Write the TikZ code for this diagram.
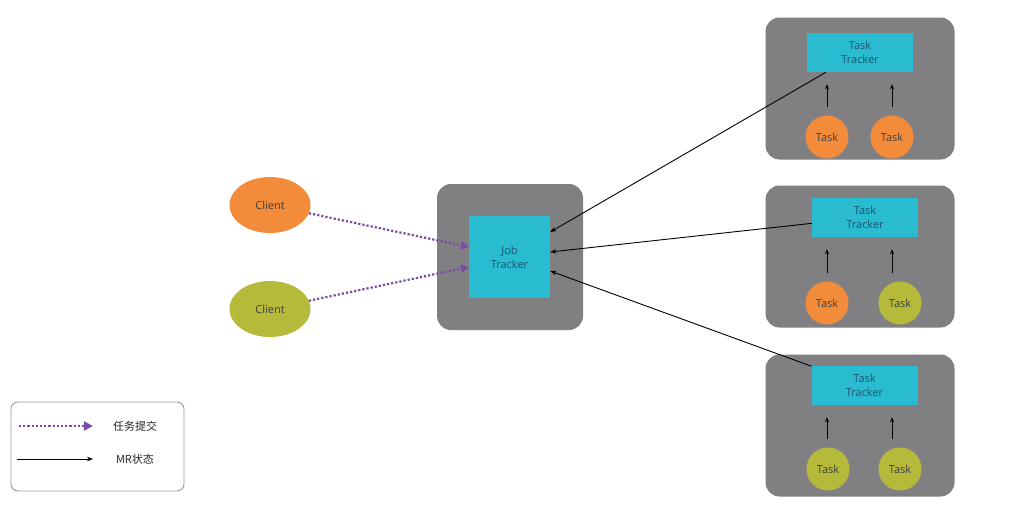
\documentclass[tikz,border=0pt]{standalone}
\usepackage{fontspec}
\setmainfont{Open Sans}
\newfontfamily\cjk{Noto Sans CJK SC}
\usetikzlibrary{arrows.meta,calc,shapes.geometric}

\definecolor{boxgray}{RGB}{128,128,131}
\definecolor{trkcyan}{RGB}{41,188,208}
\definecolor{trktext}{RGB}{28,84,110}
\definecolor{tskorange}{RGB}{242,140,58}
\definecolor{tskolive}{RGB}{181,186,58}
\definecolor{subpurple}{RGB}{125,75,165}

\begin{document}
\begin{tikzpicture}[x=1pt, y=-1pt,
  groupbox/.style={rectangle, fill=boxgray, rounded corners=14pt, inner sep=0pt},
  trackerbox/.style={rectangle, fill=trkcyan, inner sep=0pt, align=center,
    text=trktext, font=\fontsize{11}{14}\selectfont},
  taskcirc/.style={circle, minimum size=43pt, inner sep=0pt,
    text=black!75, font=\fontsize{11}{13}\selectfont},
  clientell/.style={ellipse, minimum width=81pt, minimum height=56pt, inner sep=0pt,
    text=black!75, font=\fontsize{11}{13}\selectfont},
  submitarr/.style={draw=subpurple, line width=2.2pt, dotted,
    -{Triangle[length=8pt,width=8pt,fill=subpurple]}},
  statusarr/.style={draw=black, line width=0.9pt, -{Stealth[length=6pt,width=4.5pt]}},
  uparr/.style={draw=black, line width=1pt, -{Stealth[length=5pt,width=4pt]},
    shorten <=8pt, shorten >=12pt},
  legtext/.style={font=\cjk\fontsize{11}{13}\selectfont, text=black!85},
]
\useasboundingbox[fill=white] (0,0) rectangle (1024,514);

% ============================================================
% JOB TRACKER
% ============================================================
\node[groupbox, minimum width=146pt, minimum height=146pt] (jtgrp) at (510,257) {};
\node[trackerbox, minimum width=81pt, minimum height=82pt] (jt) at (509.5,257) {Job\\Tracker};

% ============================================================
% CLIENTS
% ============================================================
\node[clientell, fill=tskorange] (cli1) at (270,205) {Client};
\node[clientell, fill=tskolive] (cli2) at (270,309) {Client};

\draw[submitarr] (cli1) -- ($(jt.west)+(0,-10)$);
\draw[submitarr] (cli2) -- ($(jt.west)+(0,10)$);

% ============================================================
% TASK TRACKER 1 (top)
% ============================================================
\node[groupbox, minimum width=189pt, minimum height=142pt] (grp1) at (860,88.5) {};
\node[trackerbox, minimum width=106pt, minimum height=39pt] (tt1) at (860,52.5) {Task\\Tracker};
\node[taskcirc, fill=tskorange] (t1a) at (827,137) {Task};
\node[taskcirc, fill=tskorange] (t1b) at (892,137) {Task};
\draw[uparr] (t1a.north) -- (t1a.north |- tt1.south);
\draw[uparr] (t1b.north) -- (t1b.north |- tt1.south);

% ============================================================
% TASK TRACKER 2 (middle)
% ============================================================
\node[groupbox, minimum width=189pt, minimum height=142pt] (grp2) at (860,256.5) {};
\node[trackerbox, minimum width=106pt, minimum height=39pt] (tt2) at (865,217.5) {Task\\Tracker};
\node[taskcirc, fill=tskorange] (t2a) at (827,303) {Task};
\node[taskcirc, fill=tskolive] (t2b) at (900,303) {Task};
\draw[uparr] (t2a.north) -- (t2a.north |- tt2.south);
\draw[uparr] ($(t2b.north)+(-8,0)$) -- ($(t2b.north |- tt2.south)+(-8,0)$);

% ============================================================
% TASK TRACKER 3 (bottom)
% ============================================================
\node[groupbox, minimum width=189pt, minimum height=142pt] (grp3) at (860,425.5) {};
\node[trackerbox, minimum width=106pt, minimum height=39pt] (tt3) at (864.5,385.5) {Task\\Tracker};
\node[taskcirc, fill=tskolive] (t3a) at (828,469) {Task};
\node[taskcirc, fill=tskolive] (t3b) at (900,469) {Task};
\draw[uparr] ($(t3a.north)+(-1,0)$) -- ($(t3a.north |- tt3.south)+(-1,0)$);
\draw[uparr] ($(t3b.north)+(-8,0)$) -- ($(t3b.north |- tt3.south)+(-8,0)$);

% Status arrows to job tracker
\draw[statusarr] (tt1) -- ($(jt.east)+(0,-25)$);
\draw[statusarr] (tt2) -- ($(jt.east)+(0,-5)$);
\draw[statusarr] (tt3) -- ($(jt.east)+(0,14)$);

% ============================================================
% LEGEND
% ============================================================
\node[rectangle, draw=black!40, line width=0.9pt, rounded corners=7pt,
  minimum width=173pt, minimum height=89pt] (legend) at (97.5,446.5) {};
\coordinate (lg1a) at (19,426);
\coordinate (lg1b) at (93,426);
\coordinate (lg2a) at (17,459);
\coordinate (lg2b) at (93,459);
\draw[submitarr, -{Triangle[length=9pt,width=9pt,fill=subpurple]}] (lg1a) -- (lg1b);
\draw[statusarr] (lg2a) -- (lg2b);
\node[legtext] (lgt1) at (135,426) {任务提交};
\node[legtext] (lgt2) at (135,459) {MR状态};

\end{tikzpicture}
\end{document}
